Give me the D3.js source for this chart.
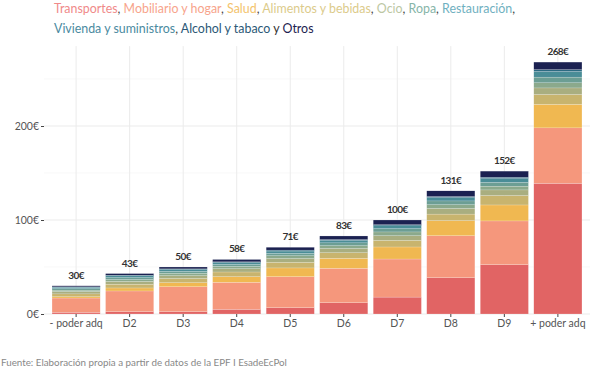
<!DOCTYPE html>
<html>
<head>
<meta charset="utf-8">
<style>
  body { margin: 0; background: #fff; }
  svg { display: block; font-family: "Lato", "Noto Sans", sans-serif; }
</style>
</head>
<body>
<svg id="chart"></svg>
<script src="https://cdn.jsdelivr.net/npm/d3@7"></script>
<script>
// categories (x axis)
var deciles = ["- poder adq", "D2", "D3", "D4", "D5", "D6", "D7", "D8", "D9", "+ poder adq"];
// series, bottom to top
var series = ["Transportes", "Mobiliario y hogar", "Salud", "Alimentos y bebidas", "Ocio", "Ropa",
              "Restauración", "Vivienda y suministros", "Alcohol y tabaco", "Otros"];
var transportes = [1.8, 2.5, 2.5, 5, 6.7, 12, 18, 38.6, 52.5, 139];
var mobiliario  = [15.2, 22, 26.5, 28.7, 33, 36.6, 40.5, 44.7, 46.5, 59];
var salud       = [1.4, 3.2, 4.3, 6, 9.3, 10.6, 12.8, 16, 17, 25];
var alimentos   = [3, 4, 4.5, 5, 6, 6, 7, 7, 10, 10.5];
var ocio        = [2.5, 3, 3, 3.5, 4, 4.5, 5, 6, 6, 7];
var ropa        = [1.5, 2, 2.5, 2.5, 3, 3, 4, 4, 4, 5.5];
var restauracion= [1.5, 2, 2, 2, 2.5, 3, 3.5, 4, 4, 6];
var vivienda    = [1.5, 2, 2, 2, 2.5, 2.5, 3, 3.5, 4, 6];
var alcohol     = [0.5, 0.6, 0.7, 0.8, 1, 1, 1.2, 1.2, 1.5, 2];
var otros       = [1.1, 1.7, 2, 2.5, 3, 3.8, 5, 6, 6.5, 8];
var totals      = [30, 43, 50, 58, 71, 83, 100, 131, 152, 268];
var yTicks = [0, 100, 200];

var barColors = ["#e16464", "#f5977c", "#f0b851", "#c8b46e", "#a9ae80", "#8ba98c",
                 "#6c9e94", "#4a8d97", "#2c6b82", "#1b2151"];
var titleColors = ["#f08a8a", "#f7a48c", "#f3c36c", "#dccb8b", "#bcc7a3", "#86b5a8",
                   "#6fb0c0", "#4a8aa0", "#2b5876", "#1d2250"];

var values = [transportes, mobiliario, salud, alimentos, ocio, ropa, restauracion, vivienda, alcohol, otros];
var table = deciles.map(function (d, i) {
  var row = { decil: d };
  series.forEach(function (s, k) { row[s] = values[k][i]; });
  return row;
});

var width = 600, height = 376;
var svg = d3.select("#chart").attr("width", width).attr("height", height);

var x = d3.scaleBand().domain(deciles).range([44, 590]).paddingInner(0.1).paddingOuter(0.15);
var y = d3.scaleLinear().domain([0, 285]).range([314, 314 - 285 * 0.94]);

// grid
var grid = svg.append("g");
grid.selectAll("line.minor").data([50, 150, 250]).enter().append("line")
  .attr("x1", 44).attr("x2", 590).attr("y1", d => y(d)).attr("y2", d => y(d))
  .attr("stroke", "#f3f3f3").attr("stroke-width", 0.6);
grid.selectAll("line.major").data(yTicks).enter().append("line")
  .attr("x1", 44).attr("x2", 590).attr("y1", d => y(d)).attr("y2", d => y(d))
  .attr("stroke", "#ebebeb").attr("stroke-width", 1);
grid.selectAll("line.vert").data(deciles).enter().append("line")
  .attr("x1", d => x(d) + x.bandwidth() / 2).attr("x2", d => x(d) + x.bandwidth() / 2)
  .attr("y1", y(0)).attr("y2", y(285))
  .attr("stroke", "#ebebeb").attr("stroke-width", 1);

// stacked bars
var stack = d3.stack().keys(series)(table);
svg.append("g").selectAll("g").data(stack).enter().append("g")
  .attr("fill", (d, i) => barColors[i])
  .selectAll("rect").data(d => d).enter().append("rect")
  .attr("x", d => x(d.data.decil))
  .attr("width", x.bandwidth())
  .attr("y", d => y(d[1]))
  .attr("height", d => y(d[0]) - y(d[1]))
  .attr("stroke", "#ffffff").attr("stroke-width", 0.3).attr("stroke-opacity", 0.6);

// totals
svg.append("g").selectAll("text").data(totals).enter().append("text")
  .attr("x", (d, i) => x(deciles[i]) + x.bandwidth() / 2)
  .attr("y", d => y(d) - 7)
  .attr("text-anchor", "middle")
  .attr("font-size", 10).attr("font-weight", "bold").attr("fill", "#333")
  .attr("letter-spacing", -0.6)
  .text(d => d + "€");

// y axis
var yAxis = svg.append("g").attr("transform", "translate(44,0)")
  .call(d3.axisLeft(y).tickValues(yTicks).tickSize(3).tickPadding(2).tickFormat(d => d + "€"));
yAxis.select(".domain").remove();
yAxis.selectAll("line").attr("stroke", "#444");
yAxis.selectAll("text").attr("font-size", 10.5).attr("fill", "#555").attr("font-family", "Lato, sans-serif");

// x axis
var xAxis = svg.append("g").attr("transform", "translate(0,314)")
  .call(d3.axisBottom(x).tickSize(3).tickPadding(3));
xAxis.select(".domain").remove();
xAxis.selectAll("line").attr("stroke", "#444");
xAxis.selectAll("text").attr("font-size", 10.5).attr("fill", "#555").attr("font-family", "Lato, sans-serif");

// title with coloured words
var line1 = [0, 1, 2, 3, 4, 5, 6];
var line2 = [7, 8, 9];
function titleLine(idx, yy) {
  var t = svg.append("text").attr("x", 54).attr("y", yy).attr("font-size", 12.4);
  idx.forEach(function (k, j) {
    if (k === 9) t.append("tspan").attr("fill", "#333").text(" y ");
    t.append("tspan").attr("fill", titleColors[k]).text(series[k]);
    if (k !== 8 && k !== 9) t.append("tspan").attr("fill", "#444").text(", ");
  });
}
titleLine(line1, 13);
titleLine(line2, 33);

// source
svg.append("text").attr("x", 1).attr("y", 366)
  .attr("font-size", 9.8).attr("fill", "#888")
  .text("Fuente: Elaboración propia a partir de datos de la EPF I EsadeEcPol");
</script>
</body>
</html>
